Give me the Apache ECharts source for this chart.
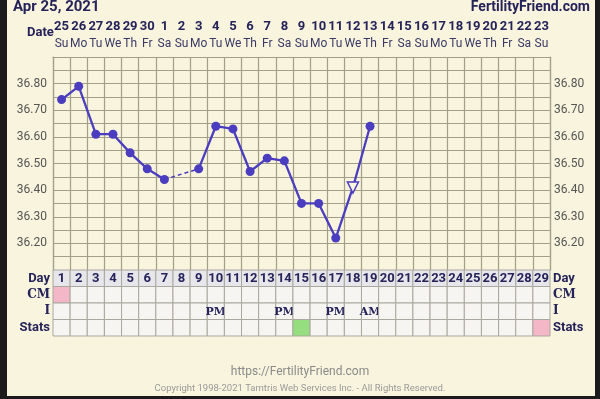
<!DOCTYPE html>
<html>
<head>
<meta charset="utf-8">
<script src="https://cdn.jsdelivr.net/npm/echarts@6/dist/echarts.min.js"></script>
<style>
  html, body { margin: 0; padding: 0; background: #161616; }
  #chart { width: 600px; height: 399px; }
</style>
</head>
<body>
<div id="chart"></div>
<script>
// chart data
const dates = ['25','26','27','28','29','30','1','2','3','4','5','6','7','8','9','10','11','12','13','14','15','16','17','18','19','20','21','22','23'];
const weekdays = ['Su','Mo','Tu','We','Th','Fr','Sa','Su','Mo','Tu','We','Th','Fr','Sa','Su','Mo','Tu','We','Th','Fr','Sa','Su','Mo','Tu','We','Th','Fr','Sa','Su'];
const cycleDays = ['1','2','3','4','5','6','7','8','9','10','11','12','13','14','15','16','17','18','19','20','21','22','23','24','25','26','27','28','29'];
const temps = [36.74, 36.79, 36.61, 36.61, 36.54, 36.48, 36.44, null, 36.48, 36.64, 36.63, 36.47, 36.52, 36.51, 36.35, 36.35, 36.22, 36.41, 36.64, null, null, null, null, null, null, null, null, null, null];
const openDay = 17;      // day 18 drawn as open triangle
const rowNames = ['Day', 'CM', 'I', 'Stats'];
const cmRow = ['pink','','','','','','','','','','','','','','','','','','','','','','','','','','','',''];
const iRow = ['','','','','','','','','','PM','','','','PM','','','PM','','AM','','','','','','','','','',''];
const statsRow = ['','','','','','','','','','','','','','','green','','','','','','','','','','','','','','pink'];

const navy = '#25235a';
const purple = '#4b3dbf';
const cream = '#f8f4dd';
const fills = { pink: '#f3b7c8', green: '#95dd7e' };

// dashed link across the missing day
const dashed = temps.map(function (v, i) { return (i === 6 || i === 8) ? v : null; });
const mainData = temps.map(function (v, i) {
    if (i === openDay) {
        return { value: v, symbol: 'triangle', symbolRotate: 180, symbolSize: 11,
                 itemStyle: { color: cream, borderColor: purple, borderWidth: 1.5 } };
    }
    return v;
});

const cells = [];
for (let r = 0; r < 4; r++) {
    for (let c = 0; c < 29; c++) cells.push([c, r]);
}

function cellInfo(c, r) {
    if (r === 0) return { text: cycleDays[c], fill: '#e7e6ea' };
    if (r === 1) return { text: '', fill: fills[cmRow[c]] || '#f6f5f1' };
    if (r === 2) return { text: iRow[c], fill: '#f6f5f1' };
    return { text: '', fill: fills[statsRow[c]] || '#f6f5f1' };
}

const rowLabel = {
    formatter: function (v) { return (v === 'CM' || v === 'I') ? '{r|' + v + '}' : '{s|' + v + '}'; },
    rich: {
        s: { fontFamily: 'Roboto', fontWeight: 'bold', fontSize: 13, color: navy },
        r: { fontFamily: 'DejaVu Serif', fontWeight: 'bold', fontSize: 12, color: navy }
    }
};

function tempLabel(v) {
    const c = Math.round(v * 100);
    return (c % 10 === 0 && c >= 3620 && c <= 3680) ? (c / 100).toFixed(2) : '';
}

const chart = echarts.init(document.getElementById('chart'));
chart.setOption({
    backgroundColor: cream,
    animation: false,
    grid: [
        { left: 53, right: 50, top: 57, height: 213 },
        { left: 53, right: 50, top: 270, height: 66 }
    ],
    xAxis: [
        {
            gridIndex: 0, type: 'category', data: dates, position: 'top',
            axisLine: { show: true, lineStyle: { color: '#a29e88', width: 1.2 } },
            axisTick: { show: false },
            splitLine: { show: true, interval: 0, lineStyle: { color: '#a29e88', width: 1.2 } },
            axisLabel: {
                interval: 0, margin: 6,
                formatter: function (v, i) { return '{d|' + v + '}\n{w|' + weekdays[i] + '}'; },
                rich: {
                    d: { fontFamily: 'Roboto', fontWeight: 'bold', fontSize: 13, color: navy, lineHeight: 19 },
                    w: { fontFamily: 'Roboto', fontSize: 12, color: '#3a3a66', lineHeight: 15 }
                }
            }
        },
        {
            gridIndex: 1, type: 'category', data: cycleDays,
            axisLine: { show: false }, axisTick: { show: false }, axisLabel: { show: false }
        }
    ],
    yAxis: [
        {
            gridIndex: 0, type: 'value', min: 36.1, max: 36.9, interval: 0.05,
            axisLine: { show: true, lineStyle: { color: '#a29e88', width: 1.2 } },
            axisTick: { show: false },
            splitLine: { lineStyle: { color: '#a29e88', width: 1.2 } },
            axisLabel: { margin: 6, fontFamily: 'Roboto', fontSize: 12, color: '#555', formatter: tempLabel }
        },
        {
            gridIndex: 0, type: 'value', min: 36.1, max: 36.9, interval: 0.05, position: 'right',
            axisLine: { show: true, lineStyle: { color: '#a29e88', width: 1.2 } },
            axisTick: { show: false }, splitLine: { show: false },
            axisLabel: { margin: 4, fontFamily: 'Roboto', fontSize: 12, color: '#555', formatter: tempLabel }
        },
        {
            gridIndex: 1, type: 'category', data: rowNames, inverse: true,
            axisLine: { show: false }, axisTick: { show: false },
            axisLabel: Object.assign({ margin: 3 }, rowLabel)
        },
        {
            gridIndex: 1, type: 'category', data: rowNames, inverse: true, position: 'right',
            axisLine: { show: false }, axisTick: { show: false },
            axisLabel: Object.assign({ margin: 3, align: 'left' }, rowLabel)
        }
    ],
    series: [
        {
            type: 'line', xAxisIndex: 0, yAxisIndex: 0, data: dashed, connectNulls: true,
            showSymbol: false, lineStyle: { color: purple, width: 1.5, type: [4, 3] }, z: 3
        },
        {
            type: 'line', xAxisIndex: 0, yAxisIndex: 0, data: mainData, connectNulls: false,
            symbol: 'circle', symbolSize: 9,
            itemStyle: { color: purple }, lineStyle: { color: purple, width: 2.3 }, z: 4
        },
        {
            type: 'custom', xAxisIndex: 1, yAxisIndex: 2, data: cells,
            renderItem: function (params, api) {
                const c = api.value(0), r = api.value(1);
                const p = api.coord([c, r]);
                const s = api.size([1, 1]);
                const info = cellInfo(c, r);
                const children = [{
                    type: 'rect',
                    shape: { x: p[0] - s[0] / 2, y: p[1] - s[1] / 2, width: s[0], height: s[1] },
                    style: { fill: info.fill, stroke: '#a9a89f', lineWidth: 1 }
                }];
                if (info.text) {
                    children.push({
                        type: 'text',
                        style: {
                            x: p[0], y: p[1] + 0.5, text: info.text, align: 'center', verticalAlign: 'middle',
                            fill: navy,
                            font: r === 0 ? 'bold 13px Roboto' : 'bold 11px "DejaVu Serif"'
                        }
                    });
                }
                return { type: 'group', children: children };
            }
        }
    ],
    graphic: [
        { type: 'text', left: 13, top: 0, style: { text: 'Apr 25, 2021', font: 'bold 15px Roboto', fill: navy } },
        { type: 'text', right: 10, top: 0, style: { text: 'FertilityFriend.com', font: 'bold 14px Roboto', fill: navy } },
        { type: 'text', left: 27, top: 26, style: { text: 'Date', font: 'bold 13px Roboto', fill: navy } },
        { type: 'text', left: 'center', top: 366, style: { text: 'https://FertilityFriend.com', font: '12px Roboto', fill: '#8a8a8a' } },
        { type: 'text', left: 'center', top: 384, style: { text: 'Copyright 1998-2021 Tamtris Web Services Inc. - All Rights Reserved.', font: '9.5px Roboto', fill: '#9a9a9a' } },
        { type: 'rect', left: 0, top: 0, shape: { width: 7, height: 399 }, style: { fill: '#1b1b1b' } },
        { type: 'rect', left: 595, top: 0, shape: { width: 5, height: 399 }, style: { fill: '#1b1b1b' } },
        { type: 'rect', left: 0, top: 396, shape: { width: 600, height: 3 }, style: { fill: '#1b1b1b' } }
    ]
});
</script>
</body>
</html>
